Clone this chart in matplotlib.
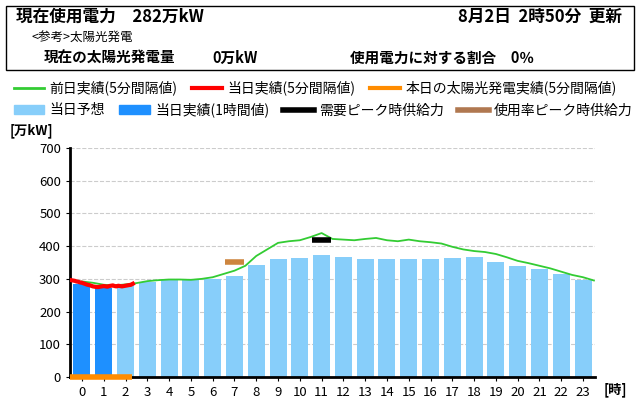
import matplotlib
matplotlib.use("Agg")
import matplotlib.pyplot as plt
from matplotlib.patches import Rectangle
from matplotlib.lines import Line2D
from matplotlib.patches import Patch

plt.rcParams["font.family"] = "Noto Sans CJK JP"

hours = list(range(24))
forecast = [287, 275, 280, 290, 295, 295, 300, 310, 343, 360, 363, 372, 367, 362, 360, 360, 362, 365, 368, 353, 340, 330, 315, 298]
actual_hourly = [285, 273]
prev_x = [h / 2 - 0.5 for h in range(48)]
prev_vals = [292, 288, 282, 280, 283, 287, 293, 296, 298, 298, 297, 300, 305, 315, 325, 340,
             370, 390, 410, 415, 418, 428, 440, 422, 420, 418, 422, 425, 418, 415, 420, 415,
             412, 408, 398, 390, 385, 382, 376, 366, 355, 348, 340, 332, 322, 312, 305, 295]
prev_x = [v + 0.5 for v in prev_x]
today_x = [i / 12 - 0.5 for i in range(35)]
today_vals = [296, 295, 294, 292, 291, 289, 288, 286, 284, 282, 281, 279, 277, 276, 275, 275, 276, 277, 278, 277,
              276, 278, 279, 280, 278, 277, 279, 278, 277, 278, 279, 280, 281, 282, 285]
peak_demand = (11, 420)
peak_rate = (7, 352)

fig = plt.figure(figsize=(6.4, 4.2), dpi=100)
W, H = 640, 420
def fx(px): return px / W
def fy(py): return 1 - py / H

fig.patches.append(Rectangle((fx(6), fy(70)), fx(628), fy(6) - fy(70), transform=fig.transFigure,
                             fill=False, edgecolor="black", lw=1))
fig.text(fx(16), fy(17), "現在使用電力　282万kW", fontsize=12, fontweight="bold", va="center")
fig.text(fx(622), fy(17), "8月2日  2時50分  更新", fontsize=12, fontweight="bold", va="center", ha="right")
fig.text(fx(32), fy(38), "<参考>太陽光発電", fontsize=9, va="center")
fig.text(fx(44), fy(58), "現在の太陽光発電量", fontsize=10.5, fontweight="bold", va="center")
fig.text(fx(212), fy(58), "0万kW", fontsize=10.5, fontweight="bold", va="center")
fig.text(fx(350), fy(58), "使用電力に対する割合　0％", fontsize=10.5, fontweight="bold", va="center")

ax = fig.add_axes([fx(70), fy(377), fx(595) - fx(70), fy(148) - fy(377)])
colors = ["#1e90ff" if i < len(actual_hourly) else "#87cefa" for i in hours]
vals = [actual_hourly[i] if i < len(actual_hourly) else forecast[i] for i in hours]
ax.bar(hours, vals, width=0.78, color=colors, zorder=2)
ax.plot(prev_x, prev_vals, color="#33cc33", lw=1.3, zorder=3)
ax.plot(today_x, today_vals, color="#ff0000", lw=3, zorder=4)
ax.hlines(peak_demand[1], peak_demand[0] - 0.45, peak_demand[0] + 0.45, color="black", lw=4, zorder=5)
ax.hlines(peak_rate[1], peak_rate[0] - 0.45, peak_rate[0] + 0.45, color="#cd853f", lw=4, zorder=5)
ax.hlines(0, -0.55, 2.3, color="#ff8c00", lw=4, zorder=6, clip_on=False)

ax.set_xlim(-0.55, 23.55)
ax.set_ylim(0, 700)
ax.set_xticks(hours)
ax.set_yticks(range(0, 701, 100))
ax.tick_params(labelsize=9.5, length=3)
ax.yaxis.grid(True, ls="--", color="#cccccc", zorder=0)
ax.set_axisbelow(True)
for s in ["top", "right"]:
    ax.spines[s].set_visible(False)
ax.spines["left"].set_linewidth(2)
ax.spines["bottom"].set_linewidth(2)
fig.text(fx(10), fy(131), "[万kW]", fontsize=9.5, fontweight="bold", va="center")
fig.text(fx(604), fy(390), "[時]", fontsize=9.5, fontweight="bold", va="center")

h1 = [Line2D([], [], color="#33cc33", lw=2), Line2D([], [], color="#ff0000", lw=3), Line2D([], [], color="#ff8c00", lw=3)]
l1 = ["前日実績(5分間隔値)", "当日実績(5分間隔値)", "本日の太陽光発電実績(5分間隔値)"]
h2 = [Patch(color="#87cefa"), Patch(color="#1e90ff"), Line2D([], [], color="black", lw=4), Line2D([], [], color="#b07850", lw=4)]
l2 = ["当日予想", "当日実績(1時間値)", "需要ピーク時供給力", "使用率ピーク時供給力"]
kw = dict(frameon=False, fontsize=10, handlelength=2.2, handletextpad=0.4, columnspacing=1.0, borderaxespad=0)
fig.legend(h1, l1, ncol=3, loc="center left", bbox_to_anchor=(fx(8), fy(88)), **kw)
fig.legend(h2, l2, ncol=4, loc="center left", bbox_to_anchor=(fx(8), fy(110)), **kw)

fig.savefig("out.png", dpi=100)
